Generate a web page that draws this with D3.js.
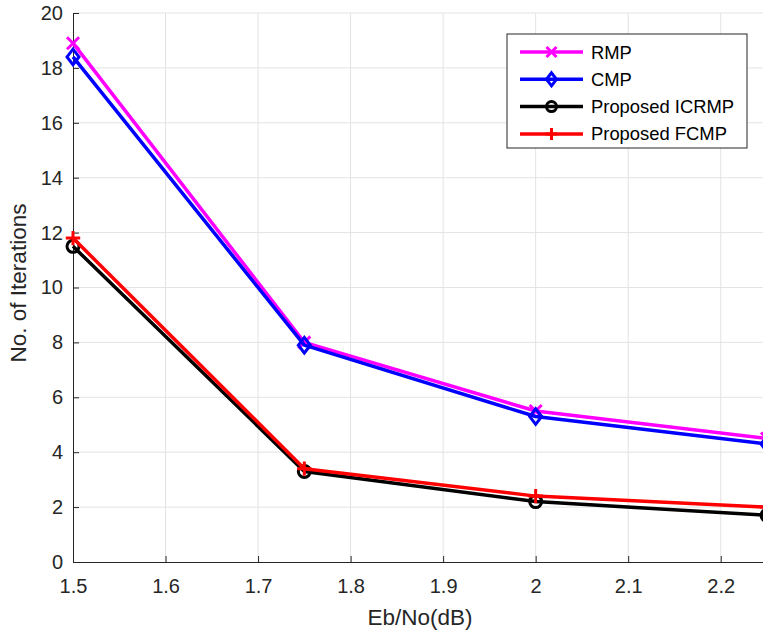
<!DOCTYPE html>
<html><head><meta charset="utf-8">
<script src="https://cdn.jsdelivr.net/npm/d3@7"></script>
<style>body{margin:0;background:#fff;} text{font-family:"Liberation Sans",Arial,sans-serif;}</style>
</head><body>
<svg id="c" width="763" height="637"></svg>
<script>
const xValues = [1.5, 1.75, 2.0, 2.25];
const seriesNames = ["RMP", "CMP", "Proposed ICRMP", "Proposed FCMP"];
const rmp = [18.9, 8.0, 5.5, 4.5];
const cmp = [18.4, 7.9, 5.3, 4.3];
const icrmp = [11.5, 3.3, 2.2, 1.7];
const fcmp = [11.8, 3.4, 2.4, 2.0];
const xTicks = [1.5, 1.6, 1.7, 1.8, 1.9, 2.0, 2.1, 2.2];
const xTickLabels = ["1.5", "1.6", "1.7", "1.8", "1.9", "2", "2.1", "2.2"];
const yTicks = [0, 2, 4, 6, 8, 10, 12, 14, 16, 18, 20];
const colors = ["#ff00ff", "#0000ff", "#000000", "#ff0000"];
const markers = ["x", "diamond", "circle", "plus"];

const svg = d3.select("#c");
const L = 73, T = 13, B = 562, R = 767;
const x = d3.scaleLinear().domain([1.5, 2.25]).range([L, R]);
const y = d3.scaleLinear().domain([0, 20]).range([B, T]);

// grid
const g = svg.append("g");
g.selectAll(".gx").data(xTicks.slice(1)).enter().append("line")
  .attr("x1", d => x(d)).attr("x2", d => x(d)).attr("y1", T).attr("y2", B)
  .attr("stroke", "#e3e3e3").attr("stroke-width", 1);
g.selectAll(".gy").data(yTicks.slice(1)).enter().append("line")
  .attr("x1", L).attr("x2", R).attr("y1", d => y(d)).attr("y2", d => y(d))
  .attr("stroke", "#e3e3e3").attr("stroke-width", 1);

// axes
const xAxis = d3.axisBottom(x).tickValues(xTicks).tickFormat((d, i) => xTickLabels[i]).tickSizeInner(-6).tickSizeOuter(0).tickPadding(17);
const yAxis = d3.axisLeft(y).tickValues(yTicks).tickSizeInner(-6).tickSizeOuter(0).tickPadding(10);
const gx = svg.append("g").attr("transform", `translate(0,${B})`).call(xAxis);
const gy = svg.append("g").attr("transform", `translate(${L},0)`).call(yAxis);
[gx, gy].forEach(a => {
  a.attr("font-size", 20);
  a.select(".domain").attr("stroke", "#262626").attr("stroke-width", 1);
  a.selectAll(".tick line").attr("stroke", "#262626");
  a.selectAll("text").attr("fill", "#262626").style("font-size", "20px").style("font-family", "Liberation Sans, Arial, sans-serif");
});

// labels
svg.append("text").attr("x", 420).attr("y", 625).attr("text-anchor", "middle")
  .attr("fill", "#262626").style("font-size", "22.5px").text("Eb/No(dB)");
svg.append("text").attr("transform", `translate(26,283) rotate(-90)`).attr("text-anchor", "middle")
  .attr("fill", "#262626").style("font-size", "22.5px").text("No. of Iterations");

function drawMarker(sel, type, color, s) {
  if (type === "x") {
    sel.append("path").attr("d", `M${-s},${-s}L${s},${s}M${-s},${s}L${s},${-s}`).attr("stroke", color).attr("stroke-width", 3).attr("fill", "none");
  } else if (type === "diamond") {
    sel.append("path").attr("d", `M0,${-s * 1.3}L${s},0L0,${s * 1.3}L${-s},0Z`).attr("stroke", color).attr("stroke-width", 3).attr("fill", "none");
  } else if (type === "circle") {
    sel.append("circle").attr("r", s).attr("stroke", color).attr("stroke-width", 3).attr("fill", "none");
  } else {
    sel.append("path").attr("d", `M${-s * 1.2},0L${s * 1.2},0M0,${-s * 1.2}L0,${s * 1.2}`).attr("stroke", color).attr("stroke-width", 3).attr("fill", "none");
  }
}

const allSeries = [rmp, cmp, icrmp, fcmp];
const line = d3.line().x((d, i) => x(xValues[i])).y(d => y(d));
allSeries.forEach((vals, si) => {
  svg.append("path").datum(vals).attr("d", line).attr("fill", "none")
    .attr("stroke", colors[si]).attr("stroke-width", 3.5).attr("stroke-linejoin", "round");
  vals.forEach((v, i) => {
    const m = svg.append("g").attr("transform", `translate(${x(xValues[i])},${y(v)})`);
    drawMarker(m, markers[si], colors[si], 6);
  });
});

// legend
const lg = svg.append("g");
lg.append("rect").attr("x", 507).attr("y", 34).attr("width", 240).attr("height", 114)
  .attr("fill", "#fff").attr("stroke", "#262626").attr("stroke-width", 1);
seriesNames.forEach((n, i) => {
  const yy = 52 + i * 27.3;
  lg.append("line").attr("x1", 520).attr("x2", 583).attr("y1", yy).attr("y2", yy)
    .attr("stroke", colors[i]).attr("stroke-width", 3.5);
  const m = lg.append("g").attr("transform", `translate(551.5,${yy})`);
  drawMarker(m, markers[i], colors[i], 5);
  lg.append("text").attr("x", 591).attr("y", yy + 6.5).attr("fill", "#000").style("font-size", "18.4px").text(n);
});
</script>
</body></html>
